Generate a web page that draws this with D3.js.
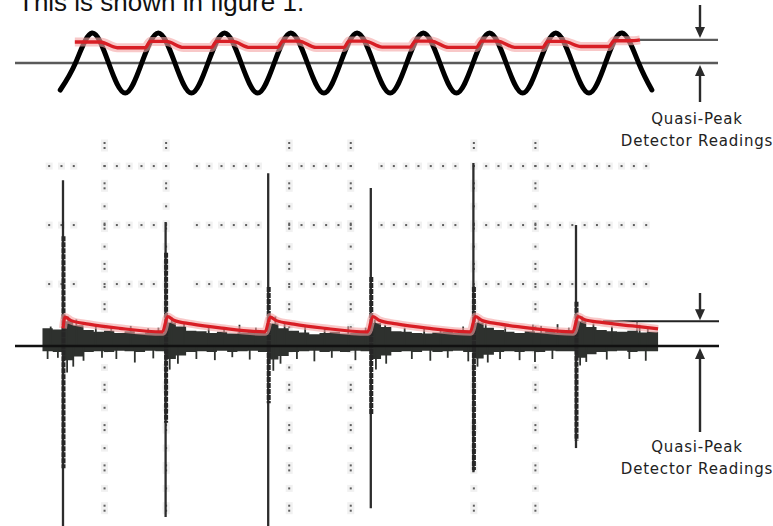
<!DOCTYPE html>
<html><head><meta charset="utf-8">
<script src="https://cdn.jsdelivr.net/npm/d3@7"></script>
<style>body{margin:0;background:#fff}svg{display:block}</style>
</head><body>
<svg id="c" width="773" height="526"></svg>
<script>
// ================= DATA =================
const captionText = "This is shown in figure 1.";
const labelLines = ["Quasi-Peak", "Detector Readings"];

// --- top panel: sine signal samples (t in cycles, v relative amplitude)
const sineT = [-0.23,0,0.25,0.5,0.75,1,1.25,1.5,1.75,2,2.25,2.5,2.75,3,3.25,3.5,3.75,4,4.25,4.5,4.75,5,5.25,5.5,5.75,6,6.25,6.5,6.75,7,7.25,7.5,7.75,8,8.25,8.5,8.7];
const sineV = [-0.9,0,1,0,-1,0,1,0,-1,0,1,0,-1,0,1,0,-1,0,1,0,-1,0,1,0,-1,0,1,0,-1,0,1,0,-1,0,1,0,-0.9];
// quasi-peak detector output on the sine (levels at each peak and in each trough)
const qpTopPeakT = [0.25,1.25,2.25,3.25,4.25,5.25,6.25,7.25,8.25];
const qpTopHigh  = [0.70,0.72,0.72,0.73,0.73,0.73,0.73,0.72,0.74];
const qpTopLow   = [0.51,0.52,0.52,0.52,0.53,0.52,0.52,0.55];
const qpTopStart = [-0.01, 0.70];
const qpTopEnd   = [8.52, 0.77];
const topReading = 0.77;

// --- bottom panel: impulse train (t in pulse periods, v in divisions)
const spikeT          = [0,1,2,3,4,5];
const spikeTop        = [2.81,2.10,2.93,2.68,3.10,2.05];
const spikeBottom     = [-3.4,-2.90,-3.4,-2.75,-2.14,-1.73];
const spikeDenseTop   = [1.86,1.58,1.00,1.17,1.00,0.75];
const spikeDenseBottom= [-2.07,-1.30,-0.97,-1.17,-2.10,-1.60];

// noise envelope, one value per 0.1 period starting at t = -0.2
const noiseStart = -0.2, noiseStep = 0.1;
const noiseUp = [0.30,0.28,0.42,0.35,0.27,0.24,0.26,0.22,0.25,0.21,0.23,0.22,
                 0.40,0.33,0.26,0.25,0.22,0.24,0.21,0.23,0.24,0.22,
                 0.38,0.30,0.26,0.23,0.20,0.22,0.24,0.21,0.22,0.23,
                 0.39,0.32,0.25,0.24,0.22,0.21,0.23,0.24,0.22,0.25,
                 0.40,0.31,0.27,0.24,0.22,0.25,0.23,0.26,0.22,0.24,
                 0.42,0.32,0.27,0.25,0.24,0.26,0.23,0.24];
const noiseDown = [-0.09,-0.10,-0.24,-0.18,-0.10,-0.09,-0.10,-0.08,-0.09,-0.10,-0.08,-0.09,
                   -0.22,-0.16,-0.10,-0.09,-0.10,-0.08,-0.10,-0.09,-0.08,-0.10,
                   -0.23,-0.17,-0.10,-0.09,-0.08,-0.10,-0.09,-0.10,-0.08,-0.09,
                   -0.22,-0.16,-0.10,-0.09,-0.10,-0.08,-0.10,-0.09,-0.08,-0.10,
                   -0.21,-0.15,-0.10,-0.09,-0.10,-0.09,-0.10,-0.08,-0.09,-0.09,
                   -0.20,-0.14,-0.10,-0.09,-0.08,-0.10,-0.09,-0.09];
// individual noise needles
const needleT = [-0.12,0.05,0.13,0.32,0.47,0.66,0.83,0.93,1.06,1.18,1.42,1.57,1.72,1.88,2.07,2.16,2.36,2.55,2.78,2.95,3.04,3.14,3.33,3.52,3.68,3.90,4.05,4.12,4.31,4.58,4.66,4.82,4.93,5.06,5.17,5.35,5.62,5.70,
                 -0.15,-0.05,0.04,0.10,0.20,0.38,0.52,0.70,0.88,1.04,1.12,1.30,1.48,1.65,1.82,2.05,2.12,2.28,2.45,2.62,2.85,3.05,3.15,3.40,3.58,3.75,3.95,4.04,4.14,4.26,4.45,4.60,4.77,5.04,5.10,5.30,5.52,5.68];
const needleV = [0.33,0.50,0.45,0.33,0.30,0.34,0.30,0.31,0.48,0.38,0.32,0.30,0.36,0.31,0.50,0.40,0.32,0.30,0.33,0.31,0.45,0.36,0.31,0.32,0.30,0.33,0.47,0.38,0.33,0.36,0.34,0.37,0.31,0.50,0.38,0.33,0.36,0.32,
                 -0.22,-0.20,-0.45,-0.35,-0.25,-0.20,-0.22,-0.28,-0.21,-0.40,-0.30,-0.22,-0.24,-0.19,-0.23,-0.42,-0.30,-0.22,-0.26,-0.20,-0.24,-0.40,-0.30,-0.22,-0.25,-0.20,-0.26,-0.35,-0.28,-0.22,-0.24,-0.27,-0.22,-0.33,-0.27,-0.23,-0.22,-0.25];

// quasi-peak detector output on the impulses
const qpPeak = [0.49,0.50,0.49,0.50,0.50,0.50];
const qpLow  = [0.24,0.24,0.24,0.24,0.24];
const qpDecayOffset = [0.02,0.08,0.25,0.55,0.97];
const qpDecayFrac   = [1,0.76,0.52,0.24,0];
const qpBottomStart = [0, 0.30];
const qpBottomEnd   = [5.8, 0.29];
const bottomReading = 0.42;

// graticule (divisions)
const gridCols = [1,2,4,5,7,8];
const gridRows = [1.05,2.05,3.05];
const rowDotSegments = [[0.1,0.5],[1.2,1.8],[2.5,3.5],[4.2,4.8],[5.5,6.7],[7.2,7.8],[8.2,9.8]];

// ================= DRAWING =================
const svg = d3.select("#c");
const font = "'DejaVu Sans', Verdana, sans-serif";

// caption (clipped at top, as in the source figure)
svg.append("text").attr("x",18).attr("y",11)
  .attr("font-family","'Liberation Sans', Arial, sans-serif").attr("font-size",26)
  .attr("fill","#111").text(captionText);

// ---------- TOP PANEL ----------
const xT = d3.scaleLinear().domain([0,1]).range([75.5,141.75]);
const yT = d3.scaleLinear().domain([-1,1]).range([93,33]);

svg.append("line").attr("x1",15).attr("x2",718).attr("y1",yT(0)).attr("y2",yT(0))
  .attr("stroke","#5a5a5a").attr("stroke-width",2.5);
svg.append("line").attr("x1",xT(qpTopEnd[0])).attr("x2",718).attr("y1",yT(topReading)).attr("y2",yT(topReading))
  .attr("stroke","#5a5a5a").attr("stroke-width",2.2);

const sinePts = sineT.map((t,i)=>[t,sineV[i]]);
svg.append("path").datum(sinePts)
  .attr("d", d3.line().x(d=>xT(d[0])).y(d=>yT(d[1])).curve(d3.curveNatural))
  .attr("fill","none").attr("stroke","#000").attr("stroke-width",5).attr("stroke-linecap","round");

const qpTopPts = [qpTopStart];
qpTopPeakT.forEach((tp,k)=>{
  if(k>0) qpTopPts.push([tp-0.12, qpTopHigh[k]]);
  qpTopPts.push([tp+0.12, qpTopHigh[k]]);
  if(k<qpTopLow.length){
    qpTopPts.push([tp+0.38, qpTopLow[k]]);
    qpTopPts.push([tp+0.80, qpTopLow[k]]);
  }
});
qpTopPts.push(qpTopEnd);
const lineT = d3.line().x(d=>xT(d[0])).y(d=>yT(d[1])).curve(d3.curveMonotoneX);
svg.append("path").datum(qpTopPts).attr("d",lineT).attr("fill","none")
  .attr("stroke","#f3a3a3").attr("stroke-width",9).attr("stroke-opacity",0.6).attr("stroke-linejoin","round");
svg.append("path").datum(qpTopPts).attr("d",lineT).attr("fill","none")
  .attr("stroke","#d81e25").attr("stroke-width",3.4).attr("stroke-linejoin","round");

// ---------- helpers ----------
function arrow(x, yFrom, yTip){
  const dir = yTip > yFrom ? 1 : -1;
  const headLen = 11, headW = 5;
  svg.append("line").attr("x1",x).attr("x2",x).attr("y1",yFrom).attr("y2",yTip - dir*headLen+dir*2)
    .attr("stroke","#2a2a2a").attr("stroke-width",2.4);
  svg.append("path").attr("d",`M${x-headW},${yTip-dir*headLen}L${x+headW},${yTip-dir*headLen}L${x},${yTip}Z`)
    .attr("fill","#2a2a2a");
}
function label(x, yBase){
  const t = svg.append("text").attr("font-family",font).attr("font-size",15)
    .attr("fill","#222").attr("text-anchor","middle").attr("letter-spacing","0.8px");
  labelLines.forEach((s,i)=> t.append("tspan").attr("x",x).attr("y",yBase+i*21.5).text(s));
}
const annX = 700;
arrow(annX, 5, yT(topReading)-2);
arrow(annX, 102, yT(0)+2);
label(697, 124);

// ---------- BOTTOM PANEL ----------
const xB = d3.scaleLinear().domain([0,5]).range([63,576]);
const yB = d3.scaleLinear().domain([0,1]).range([346,287]);
const xG = d3.scaleLinear().domain([0,10]).range([43,658.5]);

// graticule dots (with faint halo like the source screenshot)
const dotPos = [];
gridRows.forEach(r=>{
  rowDotSegments.forEach(([a,b])=>{
    for(let d=a; d<=b+1e-6; d+=0.2) dotPos.push([xG(d), yB(r)]);
  });
});
gridCols.forEach(c=>{
  const x = xG(c);
  for(let k=0;k<10;k++){
    const base = 143 + k*40.3;
    [base, base+5, base+23].forEach(y=>{ if(y<526) dotPos.push([x,y]); });
  }
  gridRows.forEach(r=> dotPos.push([x, yB(r)]));
});
const gDots = svg.append("g");
gDots.selectAll("rect.h").data(dotPos).join("rect").attr("class","h")
  .attr("x",d=>d[0]-3.5).attr("y",d=>d[1]-3.5).attr("width",7).attr("height",7).attr("fill","#f1f1f1");
gDots.selectAll("rect.d").data(dotPos).join("rect").attr("class","d")
  .attr("x",d=>d[0]-1).attr("y",d=>d[1]-1).attr("width",2).attr("height",2).attr("fill","#5e5e5e");

// noise band
const noiseX = i => noiseStart + i*noiseStep;
const bandPts = noiseUp.map((u,i)=>({t:noiseX(i), u, d:noiseDown[i]}));
bandPts.push({t:noiseX(noiseUp.length), u:noiseUp[noiseUp.length-1], d:noiseDown[noiseDown.length-1]});
svg.append("path").datum(bandPts)
  .attr("d", d3.area().x(d=>xB(d.t)).y0(d=>yB(d.d)).y1(d=>yB(d.u)).curve(d3.curveStepAfter))
  .attr("fill","#2e312e");
svg.append("g").selectAll("line").data(needleT.map((t,i)=>[t,needleV[i]])).join("line")
  .attr("x1",d=>xB(d[0])).attr("x2",d=>xB(d[0])).attr("y1",yB(0)).attr("y2",d=>yB(d[1]))
  .attr("stroke","#2e312e").attr("stroke-width",1.8);

// spikes
spikeT.forEach((t,i)=>{
  svg.append("line").attr("x1",xB(t)).attr("x2",xB(t)).attr("y1",yB(spikeTop[i])).attr("y2",yB(spikeBottom[i]))
    .attr("stroke","#2c2c2c").attr("stroke-width",2.3);
  svg.append("line").attr("x1",xB(t)+0.5).attr("x2",xB(t)+0.5).attr("y1",yB(spikeDenseTop[i])).attr("y2",yB(spikeDenseBottom[i]))
    .attr("stroke","#262626").attr("stroke-width",4).attr("stroke-dasharray","5,1");
});

// baseline + reading lines
svg.append("line").attr("x1",15).attr("x2",719).attr("y1",yB(0)).attr("y2",yB(0))
  .attr("stroke","#111").attr("stroke-width",2.4);
svg.append("line").attr("x1",603).attr("x2",719).attr("y1",yB(bottomReading)).attr("y2",yB(bottomReading))
  .attr("stroke","#222").attr("stroke-width",2);
svg.append("line").attr("x1",637).attr("x2",637).attr("y1",yB(bottomReading)).attr("y2",yB(0.22))
  .attr("stroke","#333").attr("stroke-width",1.5);

// quasi-peak (red) on impulses
const qpBotPts = [qpBottomStart];
spikeT.forEach((t,k)=>{
  if(k<qpLow.length){
    const low = qpLow[k];
    qpDecayOffset.forEach((o,j)=> qpBotPts.push([t+o, low + (qpPeak[k]-low)*qpDecayFrac[j]]));
  } else {
    const low = qpBottomEnd[1];
    qpDecayOffset.slice(0,4).forEach((o,j)=> qpBotPts.push([t+o, low + (qpPeak[k]-low)*qpDecayFrac[j]]));
    qpBotPts.push(qpBottomEnd);
  }
});
const lineB = d3.line().x(d=>xB(d[0])).y(d=>yB(d[1])).curve(d3.curveMonotoneX);
svg.append("path").datum(qpBotPts).attr("d",lineB).attr("fill","none")
  .attr("stroke","#f3a3a3").attr("stroke-width",8).attr("stroke-opacity",0.6).attr("stroke-linejoin","round");
svg.append("path").datum(qpBotPts).attr("d",lineB).attr("fill","none")
  .attr("stroke","#d81e25").attr("stroke-width",3.2).attr("stroke-linejoin","round");

arrow(annX, 293, yB(bottomReading)-1);
arrow(annX, 432, yB(0)+2);
label(697, 452);
</script>
</body></html>
